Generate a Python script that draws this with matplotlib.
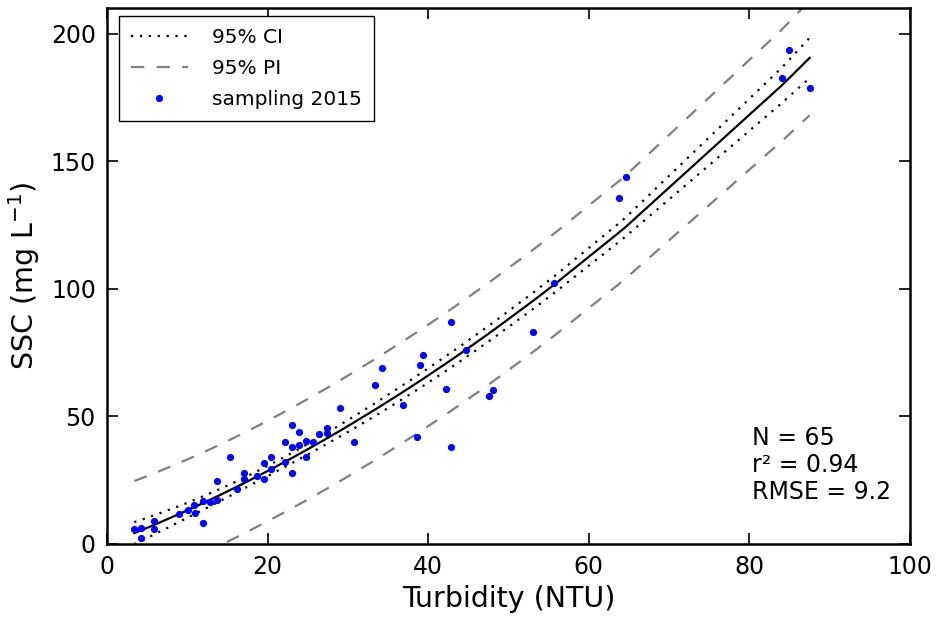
import numpy as np
import matplotlib
matplotlib.use("Agg")
import matplotlib.pyplot as plt

# Sampling 2015 data (turbidity NTU, SSC mg/L)
turbidity = [3.4, 4.2, 4.2, 5.9, 5.9, 9.0, 10.1, 10.8, 11.0, 11.9, 11.9, 12.8,
             13.7, 13.7, 15.3, 16.2, 17.1, 17.1, 18.7, 19.6, 19.6, 20.4, 20.4,
             22.2, 22.2, 23.0, 23.0, 23.0, 23.9, 23.9, 24.8, 24.8, 25.6, 26.4,
             27.4, 27.4, 29.0, 30.8, 33.4, 34.2, 36.9, 38.6, 39.0, 39.4, 42.2,
             42.8, 42.8, 44.7, 47.6, 48.1, 53.0, 55.7, 63.8, 64.6, 84.0, 84.9,
             87.5]
ssc = [5.9, 6.4, 2.5, 8.9, 5.8, 11.9, 13.3, 15.1, 12.0, 8.1, 16.9, 16.6,
       17.2, 24.8, 34.0, 21.4, 25.3, 27.7, 26.6, 25.3, 31.6, 29.2, 33.9,
       32.1, 39.9, 27.7, 38.1, 46.8, 38.9, 43.8, 34.2, 40.2, 39.9, 43.1,
       45.4, 43.3, 53.1, 40.0, 62.2, 68.8, 54.4, 41.8, 70.3, 74.0, 60.9,
       86.9, 38.1, 75.9, 57.9, 60.5, 83.1, 102.4, 135.6, 143.8, 182.7, 193.7,
       178.6]
stats_text = "N = 65\nr\u00b2 = 0.94\nRMSE = 9.2"
x_ticks = [0, 20, 40, 60, 80, 100]
y_ticks = [0, 50, 100, 150, 200]

x = np.array(turbidity)
y = np.array(ssc)
order = np.argsort(x)
xs = x[order]

# quadratic rating curve (through the origin) fitted to the samples
X = np.vstack([x, x**2]).T
beta, *_ = np.linalg.lstsq(X, y, rcond=None)
resid = y - X @ beta
n = len(x)
s = np.sqrt(np.sum(resid**2) / (n - 2))
fit = np.vstack([xs, xs**2]).T @ beta

# interval leverage from the full quadratic design
X3 = np.vstack([np.ones_like(x), x, x**2]).T
X3s = np.vstack([np.ones_like(xs), xs, xs**2]).T
lev = np.einsum("ij,jk,ik->i", X3s, np.linalg.inv(X3.T @ X3), X3s)
t = 1.96
ci = 0.7 * t * s * np.sqrt(lev)
pi = t * s * np.sqrt(1 + lev)

plt.rcParams['font.family'] = ['DejaVu Sans']
fig = plt.figure(figsize=(9.36, 6.19), dpi=100)
ax = fig.add_axes([0.1143, 0.1212, 0.8579, 0.8658])

ax.plot(xs, fit, color='black', lw=1.6)
ax.plot(xs, fit + ci, color='black', lw=1.6, linestyle=(0, (1, 3)), label='95% CI')
ax.plot(xs, fit - ci, color='black', lw=1.6, linestyle=(0, (1, 3)))
ax.plot(xs, fit + pi, color='#808080', lw=1.6, linestyle=(0, (6, 5.5)), label='95% PI')
ax.plot(xs, fit - pi, color='#808080', lw=1.6, linestyle=(0, (6, 5.5)))
ax.plot(x, y, 'o', color='blue', markersize=5.2, markeredgewidth=0,
        linestyle='none', label='sampling 2015')

ax.set_xlim(0, 100)
ax.set_ylim(0, 210)
ax.set_xticks(x_ticks)
ax.set_yticks(y_ticks)
ax.tick_params(direction='in', length=8, width=1.2, top=True, right=True,
               labelsize=17, pad=8)
for sp in ax.spines.values():
    sp.set_linewidth(1.8)
ax.set_xlabel('Turbidity (NTU)', fontsize=20.5, labelpad=4)
ax.set_ylabel('SSC (mg L$^{-1}$)', fontsize=20.5, labelpad=6)

leg = ax.legend(loc='upper left', bbox_to_anchor=(0.015, 0.986),
                borderaxespad=0, fontsize=14.5, fancybox=False, framealpha=1,
                edgecolor='black', handlelength=2.8, borderpad=0.6,
                labelspacing=0.6, numpoints=1, handletextpad=1.2)
leg.get_frame().set_linewidth(1.0)

ax.text(0.803, 0.220, stats_text, transform=ax.transAxes, fontsize=17,
        va='top', ha='left', linespacing=1.15)

fig.savefig('out.png', dpi=100)
